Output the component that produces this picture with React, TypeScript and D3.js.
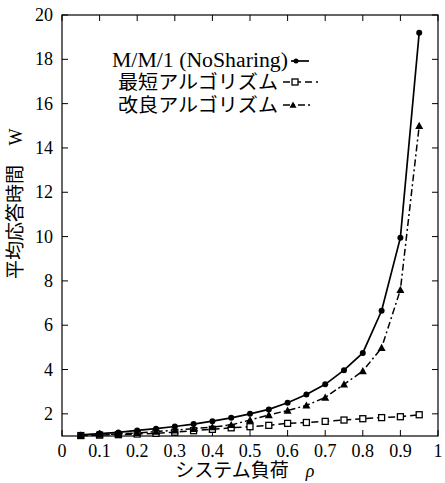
import React from "react";
import * as d3 from "d3";

const loads = [0.05, 0.1, 0.15, 0.2, 0.25, 0.3, 0.35, 0.4, 0.45, 0.5, 0.55, 0.6, 0.65, 0.7, 0.75, 0.8, 0.85, 0.9, 0.95];
const mm1 = [1.05, 1.11, 1.16, 1.25, 1.33, 1.43, 1.54, 1.67, 1.82, 2.0, 2.2, 2.5, 2.87, 3.33, 3.97, 4.75, 6.65, 9.95, 19.2];
const shortest = [1.02, 1.04, 1.06, 1.09, 1.12, 1.17, 1.24, 1.3, 1.37, 1.42, 1.48, 1.57, 1.61, 1.66, 1.72, 1.78, 1.83, 1.87, 1.96];
const improved = [1.03, 1.07, 1.09, 1.14, 1.2, 1.26, 1.33, 1.4, 1.5, 1.72, 1.95, 2.15, 2.38, 2.74, 3.33, 3.93, 4.98, 7.6, 15.0];
const xTicks = [0, 0.1, 0.2, 0.3, 0.4, 0.5, 0.6, 0.7, 0.8, 0.9, 1];
const yTicks = [2, 4, 6, 8, 10, 12, 14, 16, 18, 20];
const legendLabels = ["M/M/1 (NoSharing)", "最短アルゴリズム", "改良アルゴリズム"];
const xTitle = "システム負荷";
const yTitle = "平均応答時間";

const L = 62, R = 438, T = 15, B = 436;
const serif = "'Liberation Serif', 'DejaVu Serif', serif";
const jp = "'Noto Sans CJK JP', sans-serif";

export default function App() {
  const x = d3.scaleLinear().domain([0, 1]).range([L, R]);
  const y = d3.scaleLinear().domain([1, 20]).range([B, T]);
  const line = d3.line<number>().x((_, i) => x(loads[i])).y((v) => y(v));

  const tri = (cx: number, cy: number, s = 4) =>
    `M${cx},${cy - s} L${cx + s},${cy + s * 0.8} L${cx - s},${cy + s * 0.8} Z`;

  return (
    <svg width={445} height={483} style={{ position: "absolute", left: 0, top: 0, background: "#fff" }}>
      <rect x={0} y={0} width={445} height={483} fill="#fff" />
      {/* frame */}
      <rect x={L} y={T} width={R - L} height={B - T} fill="none" stroke="#000" strokeWidth={1.2} />
      {xTicks.map((t) => (
        <g key={"x" + t}>
          <line x1={x(t)} x2={x(t)} y1={B} y2={B - 6} stroke="#000" strokeWidth={1} />
          <line x1={x(t)} x2={x(t)} y1={T} y2={T + 6} stroke="#000" strokeWidth={1} />
          <text x={x(t)} y={457} fontFamily={serif} fontSize={18} textAnchor="middle">{t}</text>
        </g>
      ))}
      {yTicks.map((t) => (
        <g key={"y" + t}>
          <line x1={L} x2={L + 6} y1={y(t)} y2={y(t)} stroke="#000" strokeWidth={1} />
          <line x1={R} x2={R - 6} y1={y(t)} y2={y(t)} stroke="#000" strokeWidth={1} />
          <text x={53} y={y(t) + 6} fontFamily={serif} fontSize={18} textAnchor="end">{t}</text>
        </g>
      ))}
      {/* series */}
      <path d={line(shortest) || ""} fill="none" stroke="#000" strokeWidth={1.5} strokeDasharray="7,4" />
      <path d={line(improved) || ""} fill="none" stroke="#000" strokeWidth={1.5} strokeDasharray="7,3,2,3" />
      <path d={line(mm1) || ""} fill="none" stroke="#000" strokeWidth={1.7} />
      {shortest.map((v, i) => (
        <rect key={"s" + i} x={x(loads[i]) - 3} y={y(v) - 3} width={6} height={6} fill="#fff" stroke="#000" strokeWidth={1.3} />
      ))}
      {improved.map((v, i) => (
        <path key={"i" + i} d={tri(x(loads[i]), y(v))} fill="#000" />
      ))}
      {mm1.map((v, i) => (
        <circle key={"m" + i} cx={x(loads[i])} cy={y(v)} r={3} fill="#000" />
      ))}
      {/* legend */}
      <text x={288} y={67} fontFamily={serif} fontSize={20} textAnchor="end" textLength={176} lengthAdjust="spacingAndGlyphs">{legendLabels[0]}</text>
      <line x1={291} x2={309} y1={61} y2={61} stroke="#000" strokeWidth={1.7} />
      <circle cx={296} cy={61} r={2.5} fill="#000" />
      <text x={278} y={89} fontFamily={jp} fontSize={19} textAnchor="end" textLength={160} lengthAdjust="spacingAndGlyphs">{legendLabels[1]}</text>
      <line x1={283} x2={318} y1={82} y2={82} stroke="#000" strokeWidth={1.5} strokeDasharray="7,4" />
      <rect x={292} y={79} width={6} height={6} fill="#fff" stroke="#000" strokeWidth={1.3} />
      <text x={278} y={112} fontFamily={jp} fontSize={19} textAnchor="end" textLength={160} lengthAdjust="spacingAndGlyphs">{legendLabels[2]}</text>
      <line x1={283} x2={312} y1={105} y2={105} stroke="#000" strokeWidth={1.5} strokeDasharray="7,3,2,3" />
      <path d={tri(293, 105, 3.5)} fill="#000" />
      {/* axis titles */}
      <text x={232} y={477} fontFamily={jp} fontSize={19} textAnchor="middle">{xTitle}</text>
      <text x={310} y={477} fontFamily={serif} fontSize={18} fontStyle="italic" textAnchor="middle">ρ</text>
      <text transform="translate(22,222) rotate(-90)" fontFamily={jp} fontSize={19} textAnchor="middle">{yTitle}</text>
      <text transform="translate(22,137) rotate(-90)" fontFamily={serif} fontSize={18} textAnchor="middle">W</text>
    </svg>
  );
}
